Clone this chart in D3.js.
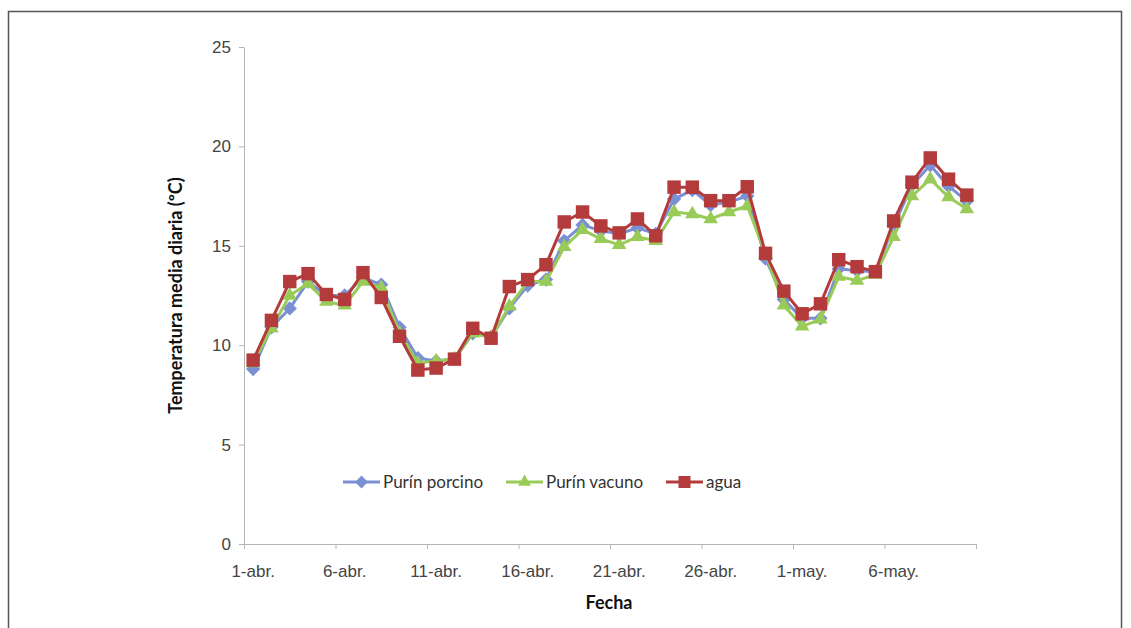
<!DOCTYPE html>
<html>
<head>
<meta charset="utf-8">
<script src="https://cdn.jsdelivr.net/npm/d3@7"></script>
<style>
  body { margin: 0; background: #fff; }
  svg { font-family: Lato, "Open Sans", sans-serif; }
  .axis path, .axis line { stroke: #b5b5b5; }
  .axis text { fill: #444; font-size: 17px; }
</style>
</head>
<body>
<svg id="chart" width="1131" height="628"></svg>
<script>
const fechas = [
  '1-abr.', '2-abr.', '3-abr.', '4-abr.', '5-abr.', '6-abr.', '7-abr.', '8-abr.', '9-abr.', '10-abr.',
  '11-abr.', '12-abr.', '13-abr.', '14-abr.', '15-abr.', '16-abr.', '17-abr.', '18-abr.', '19-abr.', '20-abr.',
  '21-abr.', '22-abr.', '23-abr.', '24-abr.', '25-abr.', '26-abr.', '27-abr.', '28-abr.', '29-abr.', '30-abr.',
  '1-may.', '2-may.', '3-may.', '4-may.', '5-may.', '6-may.', '7-may.', '8-may.', '9-may.', '10-may.'
];
const tickLabels = ['1-abr.', '6-abr.', '11-abr.', '16-abr.', '21-abr.', '26-abr.', '1-may.', '6-may.'];
const yTicks = [0, 5, 10, 15, 20, 25];

const purinPorcino = [
  8.8, 10.9, 11.85, 13.2, 12.5, 12.5, 13.4, 13.05, 10.9, 9.35,
  9.2, 9.3, 10.6, 10.4, 11.85, 13.0, 13.3, 15.25, 16.05, 15.75,
  15.6, 15.9, 15.6, 17.35, 17.8, 17.05, 17.2, 17.5, 14.35, 12.3,
  11.35, 11.35, 13.85, 13.75, 13.7, 16.0, 18.05, 19.05, 18.0, 17.25
];
const purinVacuno = [
  9.1, 10.85, 12.5, 13.1, 12.2, 12.0, 13.2, 12.9, 10.6, 9.1,
  9.2, 9.3, 10.6, 10.4, 11.95, 13.2, 13.2, 14.95, 15.8, 15.35,
  15.05, 15.45, 15.25, 16.7, 16.6, 16.35, 16.7, 17.0, 14.6, 12.0,
  10.95, 11.3, 13.45, 13.25, 13.55, 15.45, 17.5, 18.35, 17.45, 16.85
];
const agua = [
  9.25, 11.25, 13.2, 13.6, 12.55, 12.3, 13.65, 12.4, 10.45, 8.75,
  8.85, 9.3, 10.85, 10.35, 12.95, 13.3, 14.05, 16.2, 16.7, 16.0,
  15.65, 16.35, 15.5, 17.95, 17.95, 17.27, 17.27, 17.97, 14.62, 12.72,
  11.58, 12.08, 14.3, 13.95, 13.7, 16.25, 18.2, 19.42, 18.35, 17.55
];

const series = [
  { name: 'Purín porcino', values: purinPorcino, color: '#7b8fd4', symbol: d3.symbolDiamond2, size: 130 },
  { name: 'Purín vacuno', values: purinVacuno, color: '#99cb58', symbol: d3.symbolTriangle2, size: 150 },
  { name: 'agua', values: agua, color: '#b43b3c', symbol: d3.symbolSquare2, size: 230 }
];

const svg = d3.select('#chart');
const plotLeft = 244, plotRight = 976, plotTop = 47, plotBottom = 544;

// frame round the chart area
svg.append('rect')
  .attr('x', 8.5).attr('y', 11.5)
  .attr('width', 1113).attr('height', 640)
  .attr('fill', 'none').attr('stroke', '#555').attr('stroke-width', 1.5);

const x = d3.scaleBand().domain(fechas).range([plotLeft, plotRight]).paddingInner(0).paddingOuter(0);
const xEdge = d3.scaleLinear().domain([0, fechas.length]).range([plotLeft, plotRight]);
const y = d3.scaleLinear().domain([0, 25]).range([plotBottom, plotTop]);
const cx = d => x(d) + x.bandwidth() / 2;

// y axis
svg.append('g')
  .attr('class', 'axis')
  .attr('transform', `translate(${plotLeft},0)`)
  .call(d3.axisLeft(y).tickValues(yTicks).tickSize(5).tickPadding(8).tickSizeOuter(0));

// x axis: tick marks between categories, labels at category centres
svg.append('g')
  .attr('class', 'axis')
  .attr('transform', `translate(0,${plotBottom})`)
  .call(d3.axisBottom(xEdge).tickValues(d3.range(0, fechas.length + 1, 5)).tickFormat('').tickSize(5).tickSizeOuter(0));

const xLabels = svg.append('g')
  .attr('class', 'axis')
  .attr('transform', `translate(0,${plotBottom})`)
  .call(d3.axisBottom(x).tickValues(tickLabels).tickSize(0).tickPadding(21));
xLabels.select('.domain').remove();

// axis titles
svg.append('text')
  .attr('x', 609).attr('y', 609)
  .attr('text-anchor', 'middle')
  .style('font-size', '18px').style('font-weight', 'bold').attr('fill', '#111')
  .text('Fecha');

svg.append('text')
  .attr('transform', `translate(182,${(plotTop + plotBottom) / 2}) rotate(-90)`)
  .attr('text-anchor', 'middle')
  .style('font-size', '18px').style('font-weight', 'bold').attr('fill', '#111')
  .text('Temperatura media diaria (ºC)');

// lines and markers
const line = d3.line()
  .x((d, i) => cx(fechas[i]))
  .y(d => y(d));

series.forEach(s => {
  const g = svg.append('g').attr('class', 'series');
  g.append('path')
    .datum(s.values)
    .attr('fill', 'none')
    .attr('stroke', s.color)
    .attr('stroke-width', 3)
    .attr('stroke-linejoin', 'round')
    .attr('d', line);
  g.selectAll('.marker')
    .data(s.values)
    .enter()
    .append('path')
    .attr('class', 'marker')
    .attr('fill', s.color)
    .attr('transform', (d, i) => `translate(${cx(fechas[i])},${y(d)})`)
    .attr('d', d3.symbol().type(s.symbol).size(s.size));
});

// legend
const legendX = [343, 506, 666];
const legend = svg.append('g').attr('class', 'legend');
series.forEach((s, i) => {
  const item = legend.append('g').attr('transform', `translate(${legendX[i]},482)`);
  item.append('line')
    .attr('x1', 0).attr('x2', 37)
    .attr('stroke', s.color).attr('stroke-width', 3);
  item.append('path')
    .attr('transform', 'translate(18.5,0)')
    .attr('fill', s.color)
    .attr('d', d3.symbol().type(s.symbol).size(s.size * 0.8));
  item.append('text')
    .attr('x', 40).attr('dy', '0.35em')
    .style('font-size', '17px').attr('fill', '#333')
    .text(s.name);
});
</script>
</body>
</html>
